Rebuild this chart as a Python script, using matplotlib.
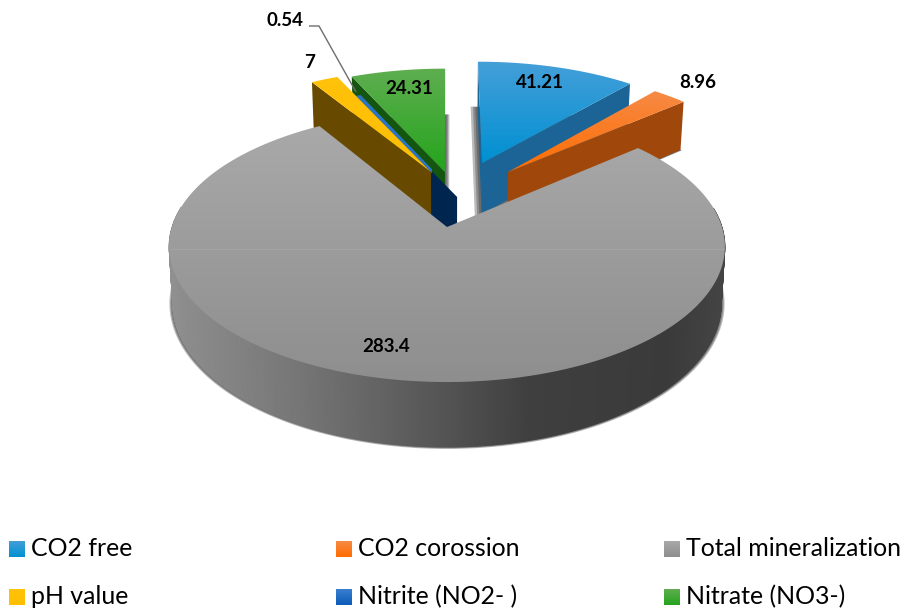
import numpy as np
import matplotlib
matplotlib.use('Agg')
import matplotlib.pyplot as plt
from matplotlib.colors import LinearSegmentedColormap
from matplotlib.patches import Polygon, Rectangle

labels = ['CO2 free', 'CO2 corossion', 'Total mineralization', 'pH value', 'Nitrite (NO2- )', 'Nitrate (NO3-)']
values = [41.21, 8.96, 283.4, 7, 0.54, 24.31]
value_text = ['41.21', '8.96', '283.4', '7', '0.54', '24.31']

# top face gradient (upper, lower) and wall colour of every slice
top_upper = ['#459fd8', '#f68a45', '#a9a9a9', '#ffc20a', '#3a7fd0', '#5fae50']
top_lower = ['#0090d2', '#ff6c00', '#8e8e8e', '#ffbe00', '#0a5cb8', '#24a41c']
wall_col = ['#1c6496', '#a0480c', '#555555', '#674a00', '#00264f', '#14560f']

# shift of each slice on the pie plane
shift_u = [0.137, 0.236, 0.0, -0.062, 0.038, -0.008]
shift_v = [0.518, 0.441, 0.0, 0.441, 0.234, 0.441]

# perspective of the pie plane, in pixels of the figure
cx, cy = 447, 227
rx, ry = 275, 132.7
persp = 0.144
depth = 55.6
shrink = 0.987

angles = np.concatenate([[0], np.cumsum(values)]) / sum(values) * 2 * np.pi


def project(u, v, bottom=False):
    w = 1 + persp * v
    if bottom:
        return cx + shrink * rx * u / w, cy + (depth - ry * v) / w
    return cx + rx * u / w, cy - ry * v / w


def outer(i, bottom=False, n=200):
    t = np.linspace(angles[i], angles[i + 1], max(n, 2))
    return project(shift_u[i] + np.sin(t), shift_v[i] + np.cos(t), bottom)


def wedge(i, bottom=False):
    x, y = outer(i, bottom)
    ax0, ay0 = project(shift_u[i], shift_v[i], bottom)
    return np.column_stack([np.r_[ax0, x], np.r_[ay0, y]])


def wall(i, a):
    # radial side face of slice i at angle a
    s, c = np.sin(a), np.cos(a)
    ua, va = shift_u[i], shift_v[i]
    p = [project(ua, va), project(ua + s, va + c), project(ua + s, va + c, True), project(ua, va, True)]
    return np.array(p)


def gradient_fill(ax, poly, upper, lower, z):
    cmap = LinearSegmentedColormap.from_list('g', [upper, lower])
    x0, x1 = poly[:, 0].min(), poly[:, 0].max()
    y0, y1 = poly[:, 1].min(), poly[:, 1].max()
    im = ax.imshow(np.linspace(0, 1, 256)[:, None], cmap=cmap, aspect='auto',
                   extent=(x0, x1, y1, y0), zorder=z, interpolation='bilinear')
    patch = Polygon(poly, closed=True, transform=ax.transData, facecolor='none', edgecolor='none')
    ax.add_patch(patch)
    im.set_clip_path(patch)


def shadow(ax, poly, mid, scale, z):
    for k in [1.0, 0.66, 0.33]:
        f = 1 + (scale - 1) * k
        ax.add_patch(Polygon(mid + (poly - mid) * f, closed=True, facecolor='#202020',
                             edgecolor='none', alpha=0.3, zorder=z))


fig = plt.figure(figsize=(9.09, 6.10), dpi=100)
ax = fig.add_axes([0, 0, 1, 1])
ax.axis('off')

# shadows under everything
for i in [5, 0, 1]:
    base = wedge(i, True)
    shadow(ax, base, base.mean(axis=0), 1.09, 1)
xb, yb = outer(2, True, n=400)
shadow(ax, wedge(2, True), np.array([cx, cy + 55]), 1.012, 1)

# back slices first, the big slice goes over their feet
draw_order = [5, 4, 3, 0, 1]
wall_angle = {5: angles[5], 4: angles[4], 3: angles[3], 0: angles[1], 1: angles[2]}
z = 2
for i in draw_order:
    if i == 0:
        ax.add_patch(Polygon(wall(0, angles[0]), closed=True, facecolor='#1c6496', edgecolor='none', zorder=z))
    ax.add_patch(Polygon(wall(i, wall_angle[i]), closed=True, facecolor=wall_col[i], edgecolor='none', zorder=z))
    z += 1
    if i == 4:
        # the sliver is too thin for a gradient, and its tip sinks into the dark wall
        sliver = Polygon(wedge(i), closed=True, facecolor=top_lower[i], edgecolor='#2a74c8', lw=1.6, zorder=z)
        ax.add_patch(sliver)
        sliver.set_clip_path(Rectangle((0, 0), 432, 610, transform=ax.transData))
    else:
        gradient_fill(ax, wedge(i), top_upper[i], top_lower[i], z)
    z += 1

# outer wall of the big slice, shaded from left to right
side_cmap = LinearSegmentedColormap.from_list('side', [(0, '#909090'), (0.25, '#747474'), (0.45, '#5a5a5a'),
                                                       (0.65, '#3f3f3f'), (0.9, '#3a3a3a'), (1, '#444444')])
xt, yt = outer(2, n=400)
t = np.linspace(angles[2], angles[3], 400)
for j in range(len(xt) - 1):
    if np.cos(t[j]) > 0.15:
        continue
    quad = [(xt[j], yt[j]), (xt[j + 1], yt[j + 1]), (xb[j + 1], yb[j + 1]), (xb[j], yb[j])]
    col = side_cmap(np.clip(((xt[j] + xt[j + 1]) / 2 - 167) / 557, 0, 1))
    ax.add_patch(Polygon(quad, closed=True, facecolor=col, edgecolor=col, lw=0.6, zorder=z))
z += 1
top_face = wedge(2)
gradient_fill(ax, top_face, top_upper[2], top_lower[2], z)
z += 1

# thin light seam across the widest part of the disc
ax.plot([xt.min() + 1, xt.max() - 1], [249, 249], color='#a9a9a9', lw=0.5, zorder=z)

# leader of the smallest slice
ax.plot([309, 319, 356], [26, 26, 92], color='#6e6e6e', lw=1, zorder=z, solid_capstyle='butt')

label_x = [540, 698, 386, 310, 285, 409]
label_y = [83, 83, 347, 63, 21, 89]
for s, x, y in zip(value_text, label_x, label_y):
    ax.text(x, y, s, family='Lato', fontsize=13.5, fontweight='bold', color='black',
            ha='center', va='center', zorder=z + 1)

# legend in two rows of three
col_x = [9, 336, 664]
row_y = [541, 589]
for i, name in enumerate(labels):
    x = col_x[i % 3]
    y = row_y[i // 3]
    square = np.array([(x, y), (x + 16, y), (x + 16, y + 16), (x, y + 16)], dtype=float)
    gradient_fill(ax, square, top_upper[i], top_lower[i], 20)
    ax.text(x + 22, y + 15, name, family='Lato', fontsize=17.9, color='black', ha='left', va='baseline', zorder=21)

ax.set_xlim(0, 909)
ax.set_ylim(610, 0)
fig.savefig('out.png', dpi=100, facecolor='white')
